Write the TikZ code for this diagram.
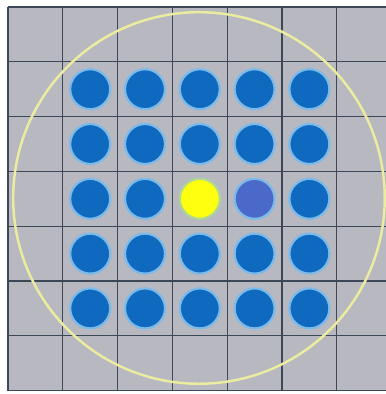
\documentclass[tikz,border=0pt]{standalone}
\usepackage{xcolor}
\definecolor{Cell}{HTML}{B8B8C0}
\definecolor{Line}{HTML}{3C4858}
\definecolor{Pin}{HTML}{0F69BE}
\definecolor{PinRing}{HTML}{7CBAEA}
\definecolor{Probe}{HTML}{4B69C8}
\definecolor{Source}{HTML}{FFFF10}
\definecolor{Halo}{HTML}{ECECA0}
\usepackage{tikz}
\usetikzlibrary{positioning}

\begin{document}
\begin{tikzpicture}[
  gridline/.style={draw=Line,line width=.7pt},
  pin/.style={circle,inner sep=0pt,minimum size=7.3mm,fill=Pin,draw=PinRing,line width=.4mm},
  probe/.style={pin,fill=Probe},
  source/.style={pin,fill=Source,draw=Source!40!PinRing},
  halo/.style={circle,draw=Halo,line width=.45mm,minimum size=67.8mm,inner sep=0pt}
]
% one cell = 1cm; the right-hand column is cut by the page edge
\useasboundingbox (-0.146,-0.062) rectangle (6.898,7.128);
\fill[Cell] (0,0) rectangle (6.898,7);
\draw[gridline,step=1cm] (0,0) grid (6.898,7);

% outer ring round the 5 x 5 assembly
\node[halo] (ring) at (3.485,3.515) {};

% row 1 (top)
\node[pin] (p11) at (1.5,5.5) {};
\node[pin] (p12) at (2.5,5.5) {};
\node[pin] (p13) at (3.5,5.5) {};
\node[pin] (p14) at (4.5,5.5) {};
\node[pin] (p15) at (5.5,5.5) {};
% row 2
\node[pin] (p21) at (1.5,4.5) {};
\node[pin] (p22) at (2.5,4.5) {};
\node[pin] (p23) at (3.5,4.5) {};
\node[pin] (p24) at (4.5,4.5) {};
\node[pin] (p25) at (5.5,4.5) {};
% row 3, with the source in the middle
\node[pin] (p31) at (1.5,3.5) {};
\node[pin] (p32) at (2.5,3.5) {};
\node[source] (p33) at (3.5,3.5) {};
\node[probe] (p34) at (4.5,3.5) {};
\node[pin] (p35) at (5.5,3.5) {};
% row 4
\node[pin] (p41) at (1.5,2.5) {};
\node[pin] (p42) at (2.5,2.5) {};
\node[pin] (p43) at (3.5,2.5) {};
\node[pin] (p44) at (4.5,2.5) {};
\node[pin] (p45) at (5.5,2.5) {};
% row 5 (bottom)
\node[pin] (p51) at (1.5,1.5) {};
\node[pin] (p52) at (2.5,1.5) {};
\node[pin] (p53) at (3.5,1.5) {};
\node[pin] (p54) at (4.5,1.5) {};
\node[pin] (p55) at (5.5,1.5) {};
\end{tikzpicture}
\end{document}
